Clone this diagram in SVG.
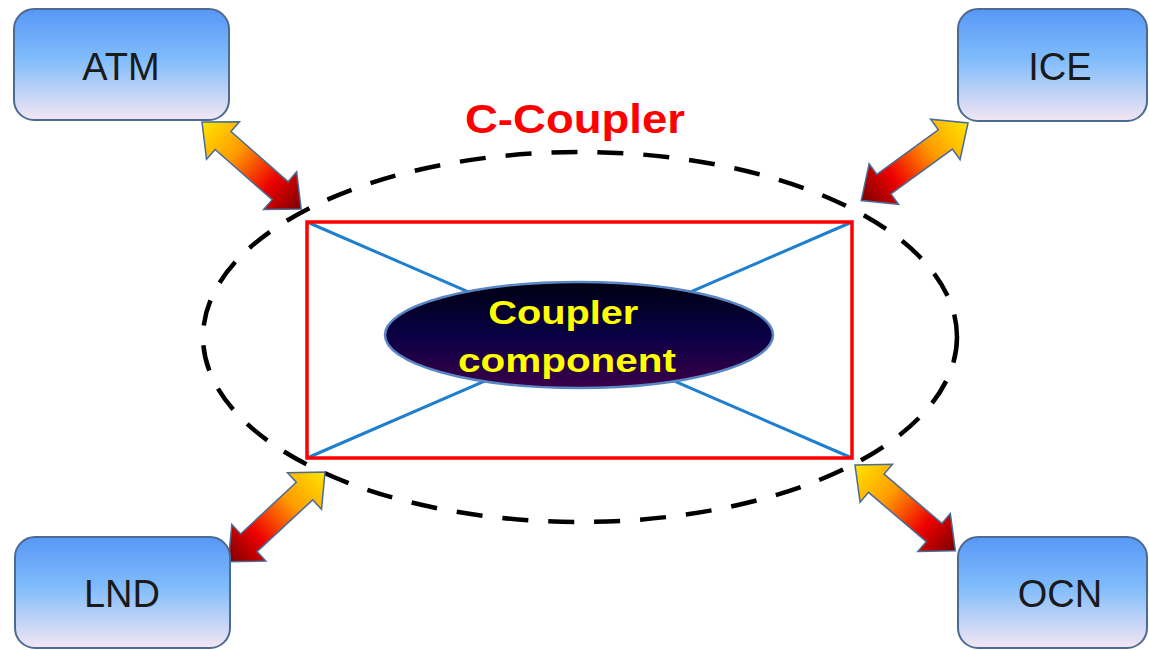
<svg xmlns="http://www.w3.org/2000/svg" width="1149" height="650" viewBox="0 0 1149 650">
<defs>
<linearGradient id="boxg" x1="0" y1="0" x2="0" y2="1">
<stop offset="0" stop-color="#5797f7"/>
<stop offset="0.45" stop-color="#80bcfb"/>
<stop offset="1" stop-color="#f3e6f3"/>
</linearGradient>
<linearGradient id="arrg" x1="0" y1="0" x2="1" y2="0">
<stop offset="0" stop-color="#ffe600"/>
<stop offset="0.35" stop-color="#ff9a00"/>
<stop offset="0.7" stop-color="#ee0000"/>
<stop offset="1" stop-color="#7a0000"/>
</linearGradient>
<linearGradient id="cg" x1="0" y1="0" x2="0" y2="1">
<stop offset="0" stop-color="#000010"/>
<stop offset="0.5" stop-color="#0a0045"/>
<stop offset="1" stop-color="#3a0048"/>
</linearGradient>
<polygon id="darr" points="0,0 28,-25 28,-12 104,-12 104,-25 132,0 104,25 104,12 28,12 28,25"/>
</defs>
<style>
.box{fill:url(#boxg);stroke:#4d6b91;stroke-width:2}
.lbl{font-family:"Liberation Sans",Arial,sans-serif;font-size:38px;fill:#1a1a1a;text-anchor:middle}
.arr{fill:url(#arrg);stroke:#4a6b95;stroke-width:1.5}
</style>
<g id="c-coupler-boundary">
<ellipse cx="580" cy="337" rx="377" ry="185" fill="none" stroke="#000" stroke-width="4.5" stroke-dasharray="26 20"/>
<text x="575" y="133" font-family="'Liberation Sans',Arial,sans-serif" font-weight="bold" font-size="41" fill="#ff0000" text-anchor="middle" textLength="220" lengthAdjust="spacingAndGlyphs">C-Coupler</text>
</g>
<g id="connectors">
<line x1="307" y1="222" x2="852" y2="458" stroke="#1f7fcf" stroke-width="3"/>
<line x1="852" y1="222" x2="307" y2="458" stroke="#1f7fcf" stroke-width="3"/>
<rect x="307" y="222" width="545" height="236" fill="none" stroke="#ff0000" stroke-width="3.5"/>
<use href="#darr" class="arr" transform="translate(202,122) rotate(41.3)"/>
<use href="#darr" class="arr" transform="translate(968,123) rotate(144)"/>
<use href="#darr" class="arr" transform="translate(325,472) rotate(137.1)"/>
<use href="#darr" class="arr" transform="translate(855,465) rotate(40.5)"/>
</g>
<g id="coupler-component">
<ellipse cx="579" cy="335" rx="194" ry="53" fill="url(#cg)" stroke="#5b86c4" stroke-width="2.5"/>
<text font-family="'Liberation Sans',Arial,sans-serif" font-weight="bold" font-size="34" fill="#ffff00" text-anchor="middle">
<tspan x="568" y="324" textLength="150" lengthAdjust="spacingAndGlyphs">Coupler</tspan>
<tspan x="567" y="372" textLength="218" lengthAdjust="spacingAndGlyphs">component</tspan>
</text>
</g>
<g id="atm">
<rect class="box" x="14" y="9" width="215" height="111" rx="20"/>
<text class="lbl" x="121" y="80">ATM</text>
</g>
<g id="ice">
<rect class="box" x="958" y="9" width="189" height="112" rx="20"/>
<text class="lbl" x="1060" y="80">ICE</text>
</g>
<g id="lnd">
<rect class="box" x="15" y="537" width="215" height="111" rx="20"/>
<text class="lbl" x="122" y="607">LND</text>
</g>
<g id="ocn">
<rect class="box" x="958" y="537" width="189" height="111" rx="20"/>
<text class="lbl" x="1060" y="607">OCN</text>
</g>
</svg>
